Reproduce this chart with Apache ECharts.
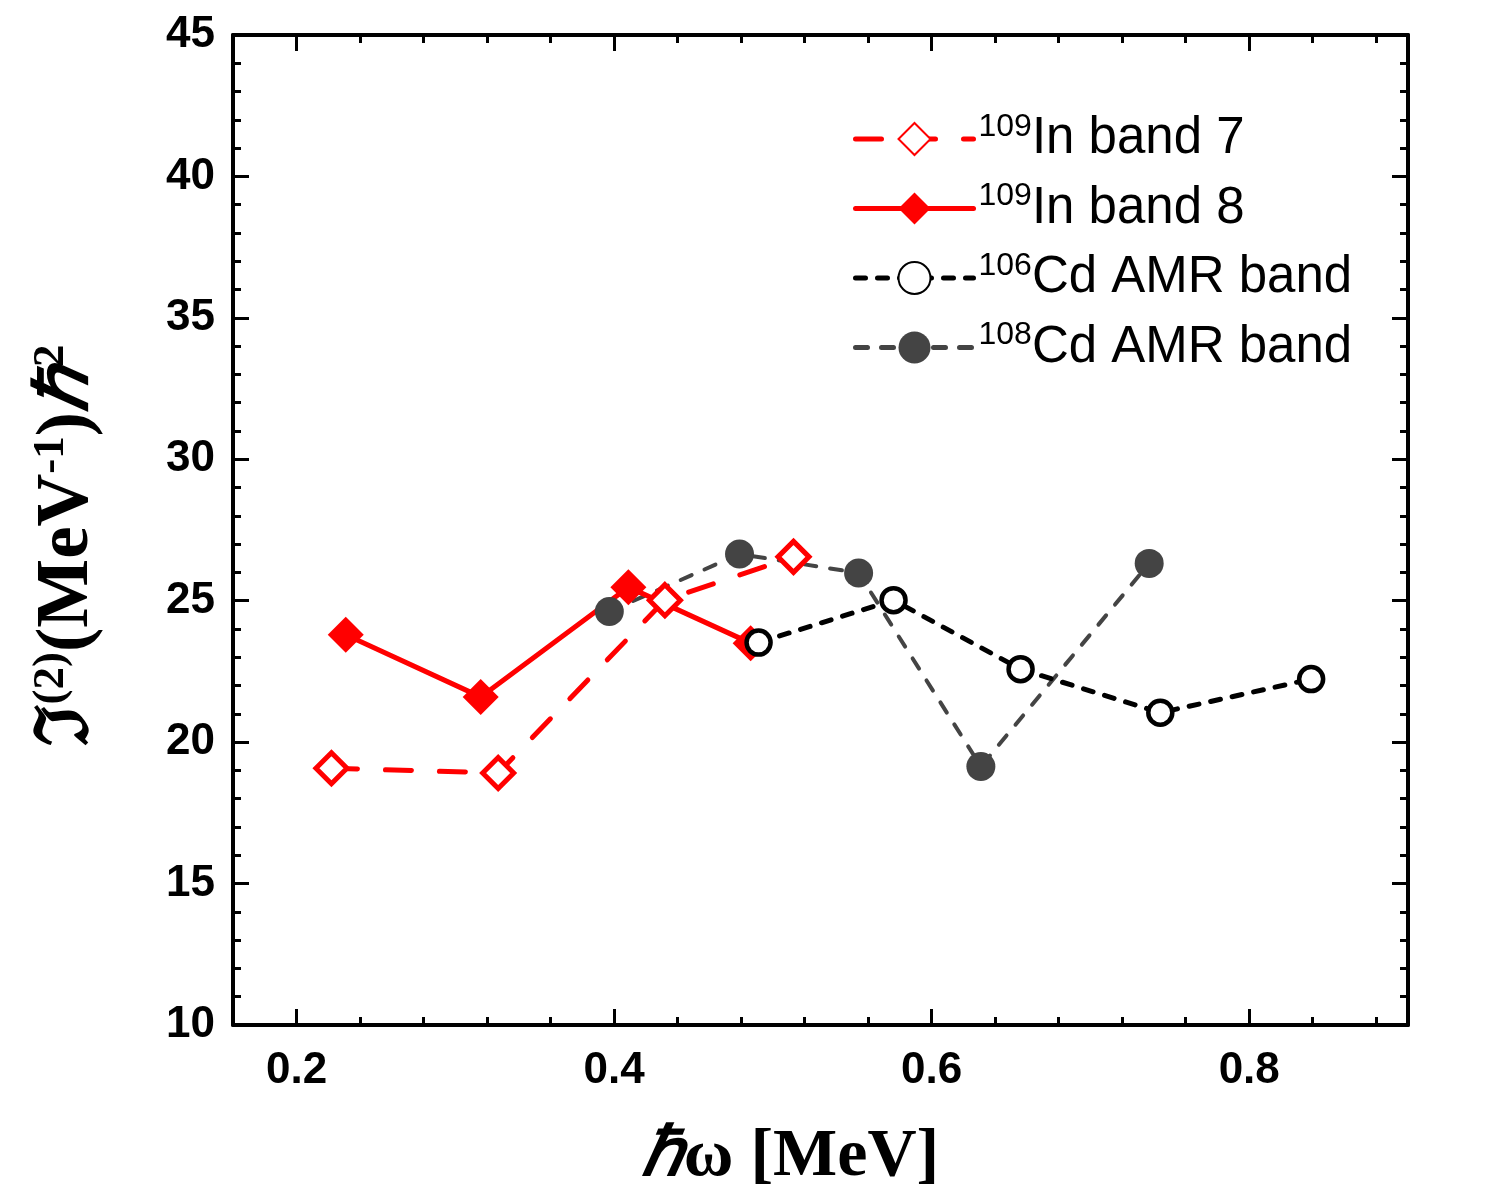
<!DOCTYPE html>
<html>
<head>
<meta charset="utf-8">
<script src="https://cdn.jsdelivr.net/npm/echarts@6/dist/echarts.min.js"></script>
<style>
  html, body { margin: 0; padding: 0; background: #fff; }
  #chart { width: 1500px; height: 1200px; }
</style>
</head>
<body>
<div id="chart"></div>
<script>
// data
const band7 = [[0.222, 19.08], [0.327, 18.91], [0.432, 25.02], [0.513, 26.55]];
const band8 = [[0.231, 23.80], [0.316, 21.60], [0.409, 25.48], [0.486, 23.50]];
const cd106 = [[0.491, 23.52], [0.576, 25.02], [0.656, 22.58], [0.744, 21.04], [0.839, 22.23]];
const cd108 = [[0.397, 24.62], [0.479, 26.65], [0.554, 25.98], [0.631, 19.14], [0.737, 26.32]];
const xMajor = [0.2, 0.4, 0.6, 0.8];
const legendNames = ['109In band 7', '109In band 8', '106Cd AMR band', '108Cd AMR band'];

const chart = echarts.init(document.getElementById('chart'));

const xMin = 0.16, xMax = 0.9;
const lineW = 4;

function minorX(pos) {
  return {
    type: 'value', position: pos, min: xMin, max: xMax, interval: 0.04,
    axisLine: { show: true, onZero: false, lineStyle: { color: '#000', width: lineW } },
    axisTick: { show: true, inside: true, length: 8, lineStyle: { color: '#000', width: 3 } },
    axisLabel: { show: false },
    splitLine: { show: false }
  };
}
function majorX(pos, withLabels) {
  return {
    type: 'value', position: pos, min: xMin, max: xMax,
    axisLine: { show: false, onZero: false },
    axisTick: { show: true, inside: true, length: 16, customValues: xMajor, lineStyle: { color: '#000', width: 3 } },
    axisLabel: withLabels ? {
      show: true, customValues: xMajor, margin: 24, color: '#000',
      fontFamily: 'Liberation Sans', fontWeight: 'bold', fontSize: 44,
      formatter: v => v.toFixed(1)
    } : { show: false },
    splitLine: { show: false },
    name: withLabels ? '{i|ℏ}{b|ω [MeV]}' : '',
    nameLocation: 'middle', nameGap: 98,
    nameTextStyle: {
      padding: [0, 60, 0, 0],
      rich: {
        i: { fontFamily: 'Liberation Serif', fontStyle: 'italic', fontWeight: 'bold', fontSize: 68, color: '#000' },
        b: { fontFamily: 'Liberation Serif', fontWeight: 'bold', fontSize: 68, color: '#000' }
      }
    }
  };
}
function yAx(pos, withLabels) {
  return {
    type: 'value', position: pos, min: 10, max: 45, interval: 5,
    axisLine: { show: true, onZero: false, lineStyle: { color: '#000', width: lineW } },
    axisTick: { show: true, inside: true, length: 16, lineStyle: { color: '#000', width: 3 } },
    minorTick: { show: true, splitNumber: 5, length: 8, lineStyle: { color: '#000', width: 3 } },
    axisLabel: withLabels ? {
      show: true, margin: 18, color: '#000',
      fontFamily: 'Liberation Sans', fontWeight: 'bold', fontSize: 44
    } : { show: false },
    splitLine: { show: false },
    name: withLabels ? '{m|ℑ}{s|(2)}{m|(MeV}{s|-1}{m|)}{h|ℏ}{s|2}' : '',
    nameLocation: 'middle', nameRotate: 90, nameGap: 125,
    nameTextStyle: {
      padding: [0, 30, 0, 0],
      rich: {
        m: { fontFamily: 'Liberation Serif', fontWeight: 'bold', fontSize: 73, color: '#000' },
        h: { fontFamily: 'Liberation Serif', fontStyle: 'italic', fontWeight: 'bold', fontSize: 73, color: '#000' },
        s: { fontFamily: 'Liberation Serif', fontWeight: 'bold', fontSize: 45, color: '#000', padding: [0, 0, 34, 0] }
      }
    }
  };
}

chart.setOption({
  animation: false,
  backgroundColor: '#fff',
  grid: { left: 233, right: 92, top: 35, bottom: 175, containLabel: false },
  xAxis: [minorX('bottom'), majorX('bottom', true), minorX('top'), majorX('top', false)],
  yAxis: [yAx('left', true), yAx('right', false)],
  legend: {
    data: legendNames,
    orient: 'vertical',
    left: 848, top: 106,
    itemWidth: 118, itemHeight: 40, itemGap: 16,
    lineStyle: { width: 5 },
    formatter: name => {
      const iso = name.slice(0, 3);
      return '{s|' + iso + '}{m|' + name.slice(3) + '}';
    },
    textStyle: {
      rich: {
        m: { fontFamily: 'Liberation Sans', fontSize: 51, color: '#000' },
        s: { fontFamily: 'Liberation Sans', fontSize: 32, color: '#000', padding: [0, 0, 24, 0] }
      }
    }
  },
  series: [
    {
      name: '108Cd AMR band', type: 'line', data: cd108,
      symbol: 'circle', symbolSize: 29,
      lineStyle: { color: '#444444', width: lineW, type: [12, 14], cap: 'round' },
      itemStyle: { color: '#444444' }
    },
    {
      name: '109In band 8', type: 'line', data: band8,
      symbol: 'diamond', symbolSize: 36,
      lineStyle: { color: '#ff0000', width: 5, type: 'solid', cap: 'round' },
      itemStyle: { color: '#ff0000' }
    },
    {
      name: '109In band 7', type: 'line', data: band7,
      symbol: 'diamond', symbolSize: 31,
      lineStyle: { color: '#ff0000', width: 5, type: [26, 28], cap: 'round' },
      itemStyle: { color: '#fff', borderColor: '#ff0000', borderWidth: 5 }
    },
    {
      name: '106Cd AMR band', type: 'line', data: cd106,
      symbol: 'circle', symbolSize: 24,
      lineStyle: { color: '#000', width: 5, type: [10, 12], cap: 'round' },
      itemStyle: { color: '#fff', borderColor: '#000', borderWidth: 4.5 }
    }
  ]
});
</script>
</body>
</html>
